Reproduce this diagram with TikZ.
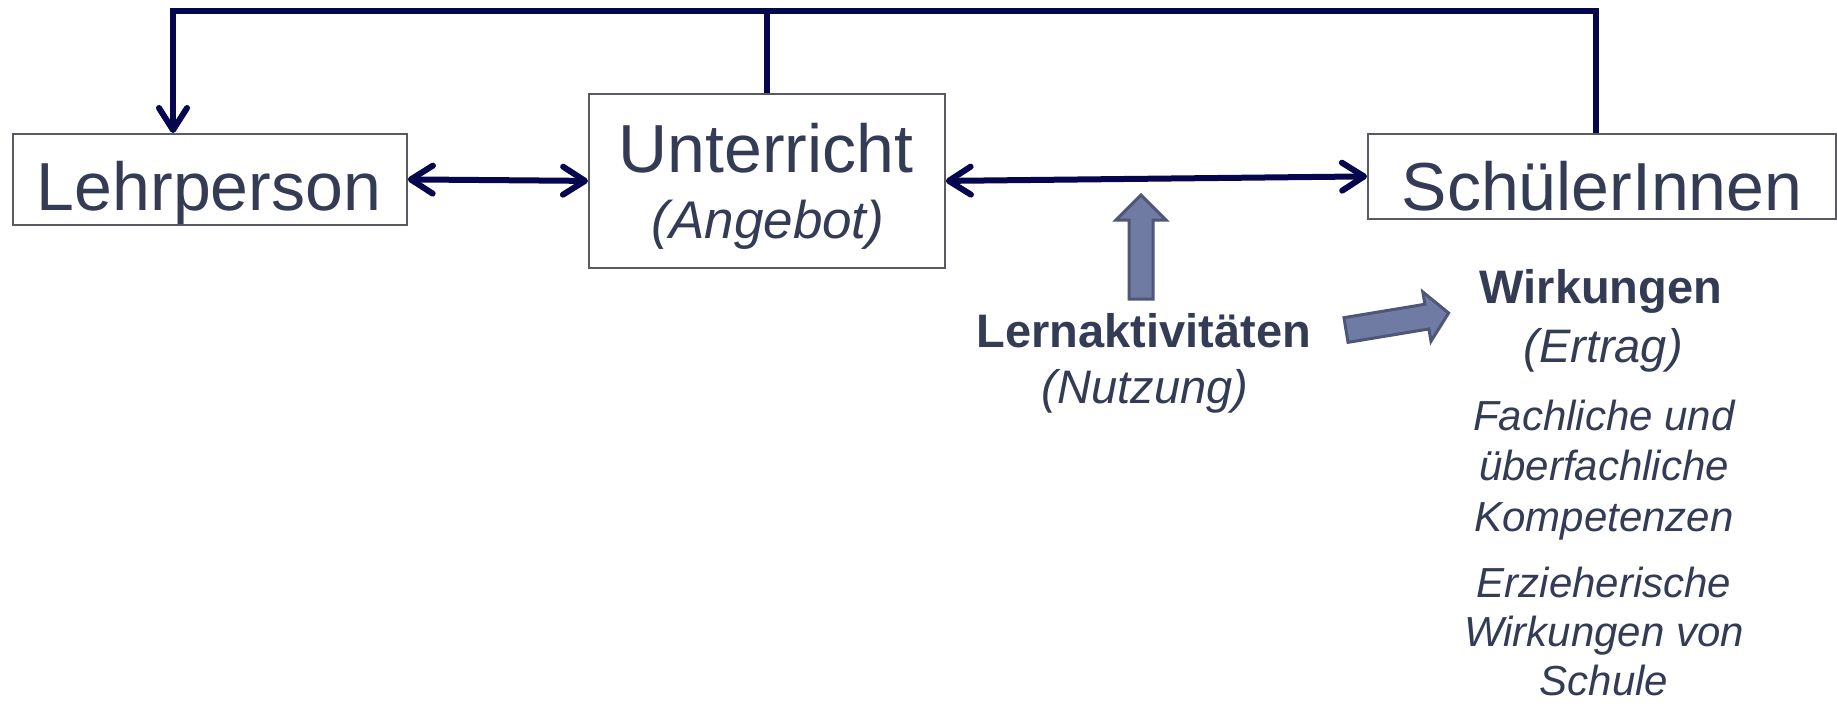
\documentclass[tikz,border=0pt]{standalone}
\usepackage{fontspec}
\setmainfont{Liberation Sans}
\usetikzlibrary{arrows.meta}
\definecolor{txt}{HTML}{343B55}
\definecolor{navy}{HTML}{06064F}
\definecolor{boxc}{HTML}{5A5A62}
\definecolor{bafill}{HTML}{6F7BA3}
\definecolor{baline}{HTML}{4F5778}
\begin{document}
\begin{tikzpicture}[x=0.5pt,y=-0.5pt,
  box/.style={draw=boxc, line width=0.9pt, inner sep=0pt, anchor=north west},
  conn/.style={draw=navy, line width=3pt},
  barb/.tip={Straight Barb[round, length=11pt, width=14pt]},
  lbl/.style={text=txt, anchor=base, inner sep=0pt},
  bigf/.style={font=\fontsize{34}{40}\selectfont},
  boldf/.style={font=\fontsize{23.5}{28}\selectfont\bfseries},
  itf/.style={font=\fontsize{23.5}{28}\selectfont\itshape},
  smallf/.style={font=\fontsize{21}{25}\selectfont\itshape},
  barrow/.style={fill=bafill, draw=baline, line width=1.5pt, line join=miter}
  ]
\useasboundingbox (0,0) rectangle (1837,703);

% boxes
\node[box, minimum width=197pt, minimum height=45.5pt] (L) at (12,133) {};
\node[box, minimum width=178pt, minimum height=87pt] (U) at (588,93) {};
\node[box, minimum width=234pt, minimum height=42.5pt] (S) at (1367,133) {};

% box texts
\node[lbl, bigf] (tL) at (209,210) {Lehrperson};
\node[lbl, bigf] (tU) at (766,172) {Unterricht};
\node[lbl, font=\fontsize{26.5}{30}\selectfont\itshape] (tA) at (768,238) {(Angebot)};
\node[lbl, bigf] (tS) at (1602,210) {SchülerInnen};

% labels
\node[lbl, boldf] (tLA) at (1144,347) {Lernaktivitäten};
\node[lbl, itf] (tN) at (1145,403) {(Nutzung)};
\node[lbl, boldf] (tW) at (1601,303) {Wirkungen};
\node[lbl, itf] (tE) at (1603,362) {(Ertrag)};
\node[lbl, smallf] (r1) at (1604,430) {Fachliche und};
\node[lbl, smallf] (r2) at (1604,480) {überfachliche};
\node[lbl, smallf] (r3) at (1604,531) {Kompetenzen};
\node[lbl, smallf] (r4) at (1604,597) {Erzieherische};
\node[lbl, smallf] (r5) at (1604,646) {Wirkungen von};
\node[lbl, smallf] (r6) at (1604,695) {Schule};

% connectors
\coordinate (tr) at (1596,11);
\coordinate (tl) at (173,11);
\draw[conn, -barb] (S.north -| tr) -- (tr) -- (tl) -- (L.north -| tl);
\draw[conn] (U.north) -- (U.north |- tr);
\draw[conn, barb-barb] (L.east) -- (U.west);
\draw[conn, barb-barb] (U.east) -- (S.west);

% block arrows
\draw[barrow] (1129,299) -- (1129,220) -- (1116,220) -- (1141,195) -- (1166,220) -- (1153,220) -- (1153,299) -- cycle;
\begin{scope}[shift={(1346,330)}, rotate=9.4]
\draw[barrow] (0,-12.5) -- (82,-12.5) -- (82,-25) -- (104,0) -- (82,25) -- (82,12.5) -- (0,12.5) -- cycle;
\end{scope}
\end{tikzpicture}
\end{document}
